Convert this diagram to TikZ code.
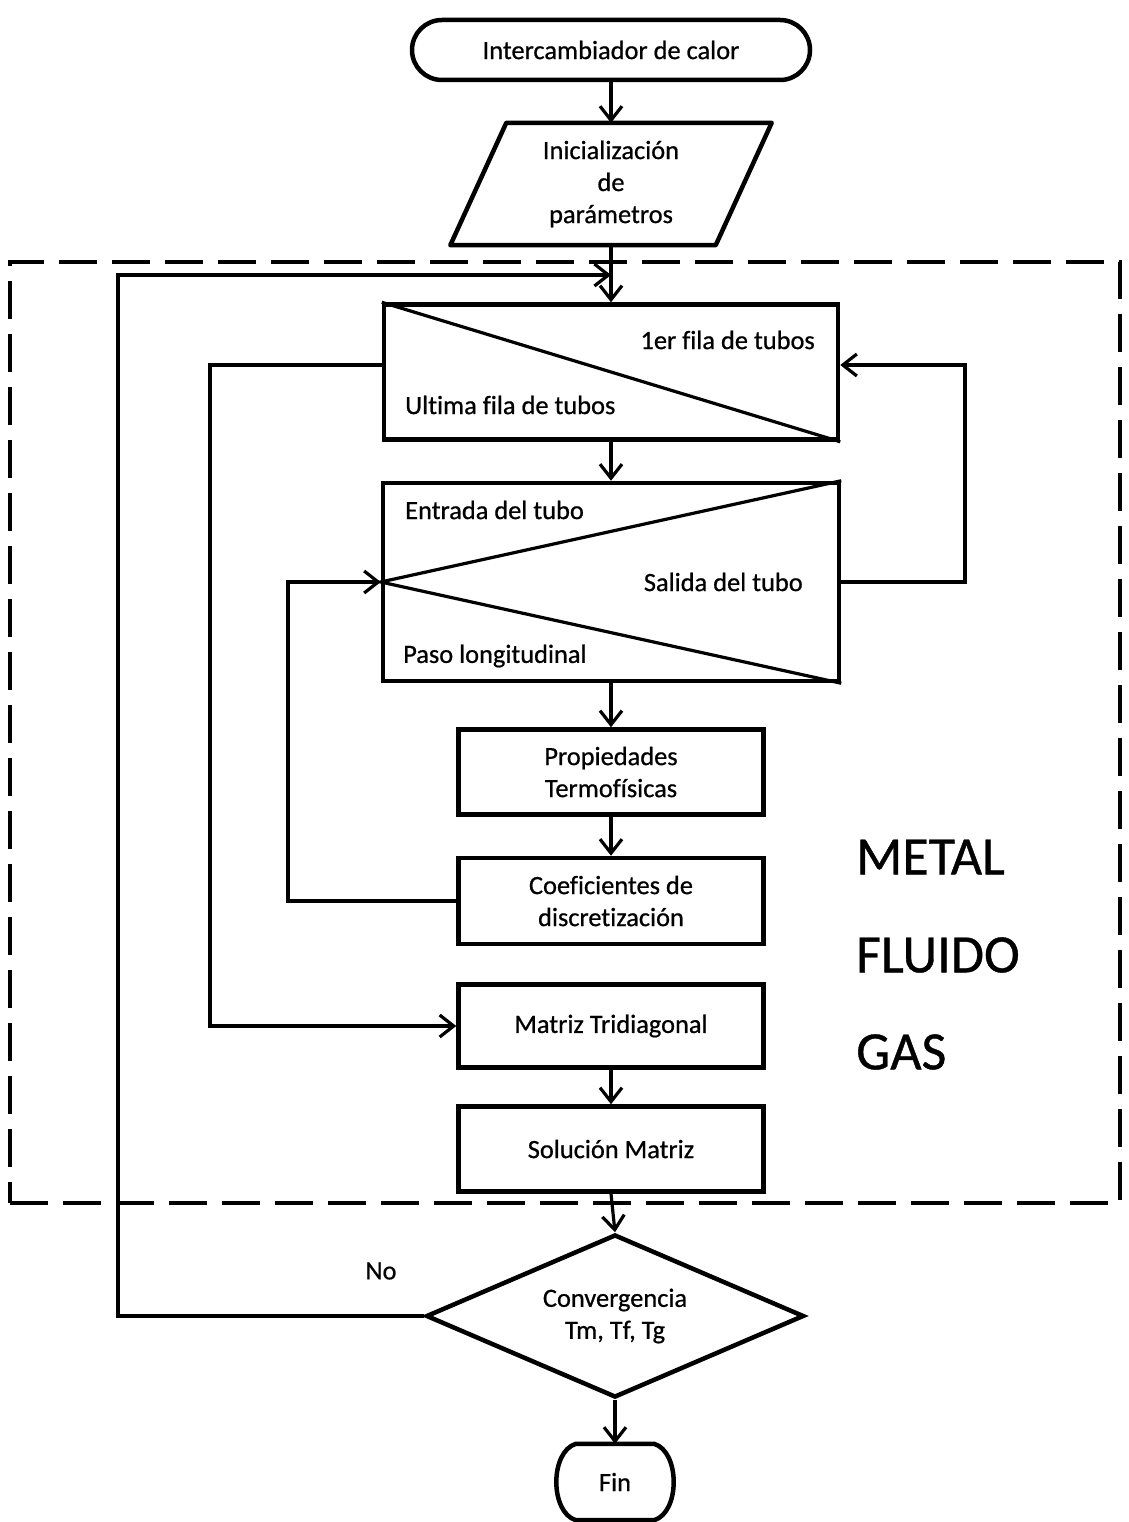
\documentclass[tikz,border=0pt]{standalone}
\usepackage{fontspec}
\setmainfont{Carlito}[FakeBold=0.7, Ligatures=NoCommon]
\usetikzlibrary{shapes.geometric,shapes.misc,arrows.meta,calc}
\begin{document}
\begin{tikzpicture}[x=1pt,y=-1pt,
  every node/.style={font=\fontsize{26.4}{32}\selectfont, align=center, inner sep=0pt},
  procbox/.style={draw, line width=4.5pt, rectangle, minimum width=305pt, minimum height=85pt},
  conn/.style={line width=3.2pt},
  arr/.style={conn, -{Straight Barb[length=14pt,width=22pt]}},
  bigtext/.style={font=\fontsize{54}{60}\selectfont, anchor=west},
  frame/.style={draw, line width=4.5pt, dash pattern=on 38pt off 15pt}
]
\useasboundingbox (0,0) rectangle (1128,1522);

% region of the iterative solver
\node[frame, minimum width=1110pt, minimum height=941pt] (region) at (565,732.5) {};

% start and initialisation
\node[draw, line width=4.5pt, rounded rectangle, minimum width=398pt, minimum height=60pt] (start) at (611,50) {Intercambiador de calor};
\node[minimum width=265pt, minimum height=122pt] (init) at (611,184) {Inicialización\\de\\parámetros};
\draw[line width=4.5pt, line join=round]
  ([xshift=28pt]init.north west) -- ([xshift=28pt]init.north east)
  -- ([xshift=-28pt]init.south east) -- ([xshift=-28pt]init.south west) -- cycle;

% loop over tube rows
\node[draw, line width=4.5pt, minimum width=454pt, minimum height=135pt] (rows) at (611,372) {};
\draw[line width=3.2pt] (rows.north west) -- (rows.south east);
\node[anchor=east] (firstrow) at (815,340) {1er fila de tubos};
\node[anchor=west] (lastrow) at (405,405) {Ultima fila de tubos};

% loop along each tube
\node[draw, line width=4.5pt, minimum width=456pt, minimum height=198pt] (tube) at (611,582) {};
\draw[line width=3.2pt] (tube.north east) -- (tube.west) -- (tube.south east);
\node[anchor=west] (tubein) at (405,510) {Entrada del tubo};
\node[anchor=east] (tubeout) at (803,582) {Salida del tubo};
\node[anchor=west] (tubestep) at (403,656) {Paso longitudinal};

% process blocks
\node[procbox] (props) at (611,772) {Propiedades\\Termofísicas};
\node[procbox, minimum height=86pt] (coef) at (611,901) {Coeficientes de\\discretización};
\node[procbox, minimum height=83pt] (tri) at (611,1026) {Matriz Tridiagonal};
\node[procbox] (sol) at (611,1149) {Solución Matriz};

% convergence test and end
\node[draw, line width=4.5pt, diamond, aspect=2.3, minimum width=378pt, minimum height=163pt] (conv) at (615,1316) {Convergencia\\Tm, Tf, Tg};
\node[minimum width=110pt, minimum height=76pt] (fin) at (615,1482) {Fin};
\draw[line width=4.5pt, line join=round]
  ([xshift=16pt]fin.north west) -- ([xshift=-16pt]fin.north east)
  .. controls ([xshift=10pt,yshift=-8pt]fin.north east) and ([xshift=10pt,yshift=8pt]fin.south east) .. ([xshift=-16pt]fin.south east)
  -- ([xshift=16pt]fin.south west)
  .. controls ([xshift=-10pt,yshift=8pt]fin.south west) and ([xshift=-10pt,yshift=-8pt]fin.north west) .. cycle;
\node (no) at (381,1271) {No};

% side labels
\node[bigtext] (metal) at (856,857) {METAL};
\node[bigtext] (fluido) at (856,955) {FLUIDO};
\node[bigtext] (gas) at (856,1052) {GAS};

% bend points
\coordinate (join) at (611,275);
\coordinate (back) at (118,275);
\coordinate (la) at (210,365);
\coordinate (rb) at (965,365);
\coordinate (lc) at (288,582);

% main flow
\draw[arr] (start.south) -- (init.north);
\draw[arr] (init.south) -- (rows.north);
\draw[arr] (rows.south) -- (tube.north);
\draw[arr] (tube.south) -- (props.north);
\draw[arr] (props.south) -- (coef.north);
\draw[arr] (tri.south) -- (sol.north);
\draw[arr] (sol.south) -- (conv.north);
\draw[arr] (conv.south) -- (fin.north);

% loops
\draw[arr] (conv.west) -| (back) -- (join);
\draw[arr] (rows.west |- la) -- (la) |- (tri.west);
\draw[arr] (tube.east) -| (rb) -- (rows.east |- rb);
\draw[arr] (coef.west) -| (lc) -- (tube.west);
\end{tikzpicture}
\end{document}
